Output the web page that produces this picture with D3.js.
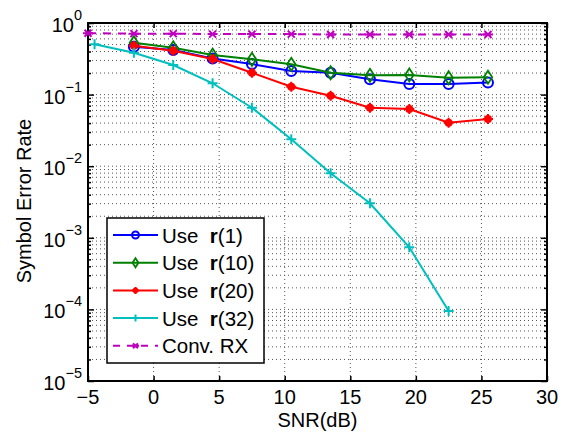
<!DOCTYPE html>
<meta charset="utf-8">
<style>
body { margin: 0; background: #fff; }
text { font-family: "Liberation Sans", Arial, sans-serif; fill: #000; }
.grid line { stroke: #555; stroke-width: 1; stroke-dasharray: 1,3; }
</style>
<body>
<script src="https://d3js.org/d3.v7.min.js"></script>
<script>
// data
var snrConv = [-5, -1.5, 1.5, 4.5, 7.5, 10.5, 13.5, 16.5, 19.5, 22.5, 25.5];
var serConv = [0.72, 0.71, 0.71, 0.70, 0.70, 0.70, 0.69, 0.69, 0.69, 0.69, 0.69];
var snrR = [-1.5, 1.5, 4.5, 7.5, 10.5, 13.5, 16.5, 19.5, 22.5, 25.5];
var serR1 = [0.467, 0.42, 0.32, 0.267, 0.214, 0.202, 0.164, 0.141, 0.141, 0.147];
var serR10 = [0.53, 0.45, 0.357, 0.311, 0.265, 0.202, 0.186, 0.188, 0.172, 0.175];
var serR20 = [0.482, 0.41, 0.314, 0.202, 0.129, 0.0966, 0.0656, 0.063, 0.0405, 0.0456];
var snrR32 = [-4.5, -1.5, 1.5, 4.5, 7.5, 10.5, 13.5, 16.5, 19.5, 22.5];
var serR32 = [0.504, 0.385, 0.259, 0.144, 0.0656, 0.0238, 0.00796, 0.00303, 0.000736, 0.000095];
var xTicks = [-5, 0, 5, 10, 15, 20, 25, 30];
var yExp = [0, -1, -2, -3, -4, -5];

var series = [
  {name: "1",  x: snrR,    y: serR1,  color: "#0000ff", marker: "o"},
  {name: "10", x: snrR,    y: serR10, color: "#008000", marker: "d"},
  {name: "20", x: snrR,    y: serR20, color: "#ff0000", marker: "*"},
  {name: "32", x: snrR32,  y: serR32, color: "#00bfbf", marker: "+"},
  {name: null, x: snrConv, y: serConv, color: "#bf00bf", marker: "x", dash: "8,7", label: "Conv. RX"}
];

var W = 567, H = 433;
var margin = {top: 23, right: 20, bottom: 52, left: 88};
var width = W - margin.left - margin.right,
    height = H - margin.top - margin.bottom;
var fs = "20px";

var svg = d3.select("body").append("svg")
    .attr("width", W).attr("height", H);
var g = svg.append("g")
    .attr("transform", "translate(" + margin.left + "," + margin.top + ")");

var x = d3.scaleLinear().domain([-5, 30]).range([0, width]);
var y = d3.scaleLog().domain([1e-5, 1]).range([height, 0]);

// minor log values
var minors = [];
yExp.forEach(function(e) {
  if (e === 0) return;
  for (var k = 2; k <= 9; k++) minors.push(k * Math.pow(10, e));
});

// grid
var grid = g.append("g").attr("class", "grid");
grid.selectAll(".gx").data(xTicks.slice(1, -1)).enter().append("line")
    .attr("x1", d => x(d)).attr("x2", d => x(d))
    .attr("y1", 0).attr("y2", height);
grid.selectAll(".gy").data(minors.concat(yExp.slice(1, -1).map(e => Math.pow(10, e)))).enter().append("line")
    .attr("x1", 0).attr("x2", width)
    .attr("y1", d => y(d)).attr("y2", d => y(d));

// axes (inside ticks, MATLAB style)
var fmtNone = () => "";
g.append("g").attr("transform", "translate(0," + height + ")")
    .call(d3.axisBottom(x).tickValues(xTicks).tickSizeInner(-5).tickSizeOuter(0).tickFormat(fmtNone));
g.append("g")
    .call(d3.axisTop(x).tickValues(xTicks).tickSizeInner(-5).tickSizeOuter(0).tickFormat(fmtNone));
g.append("g")
    .call(d3.axisLeft(y).tickValues(yExp.map(e => Math.pow(10, e))).tickSizeInner(-6).tickSizeOuter(0).tickFormat(fmtNone));
g.append("g")
    .call(d3.axisLeft(y).tickValues(minors).tickSizeInner(-3).tickSizeOuter(0).tickFormat(fmtNone));
g.append("g").attr("transform", "translate(" + width + ",0)")
    .call(d3.axisRight(y).tickValues(yExp.map(e => Math.pow(10, e))).tickSizeInner(-6).tickSizeOuter(0).tickFormat(fmtNone));
g.append("g").attr("transform", "translate(" + width + ",0)")
    .call(d3.axisRight(y).tickValues(minors).tickSizeInner(-3).tickSizeOuter(0).tickFormat(fmtNone));
g.selectAll(".domain").remove();
g.selectAll(".tick line").attr("stroke", "#000").attr("stroke-width", 1.5);

g.append("rect").attr("width", width).attr("height", height)
    .attr("fill", "none").attr("stroke", "#000").attr("stroke-width", 2);

// tick labels
g.selectAll(".xl").data(xTicks).enter().append("text")
    .attr("x", d => x(d)).attr("y", height + 23)
    .attr("text-anchor", "middle").style("font-size", fs)
    .text(d => d < 0 ? "\u2212" + (-d) : d);
var yl = g.selectAll(".yl").data(yExp).enter().append("text")
    .attr("x", -6).attr("y", d => y(Math.pow(10, d)) + 9)
    .attr("text-anchor", "end").style("font-size", fs);
yl.append("tspan").text("10");
yl.append("tspan").attr("dy", -12).style("font-size", "14.5px")
    .text(d => d < 0 ? "\u2212" + (-d) : d);

// axis titles
svg.append("text").attr("x", margin.left + x(12.5)).attr("y", 427)
    .attr("text-anchor", "middle").style("font-size", fs).text("SNR(dB)");
svg.append("text").attr("transform", "translate(31,201) rotate(-90)")
    .attr("text-anchor", "middle").style("font-size", fs).text("Symbol Error Rate");

// markers
function drawMarker(sel, m, c, s) {
  if (m === "o") sel.append("circle").attr("r", s).attr("fill", "none").attr("stroke", c).attr("stroke-width", 2);
  if (m === "d") sel.append("path").attr("d", "M0," + (-s * 1.3) + "L" + s * 0.85 + ",0L0," + s * 1.3 + "L" + (-s * 0.85) + ",0Z")
      .attr("fill", "none").attr("stroke", c).attr("stroke-width", 1.8);
  if (m === "*") {
    sel.append("circle").attr("r", s * 0.8).attr("fill", c);
    sel.append("path").attr("d", "M" + (-s) + ",0H" + s + "M0," + (-s) + "V" + s)
      .attr("stroke", c).attr("stroke-width", 2);
  }
  if (m === "+") sel.append("path").attr("d", "M" + (-s) + ",0H" + s + "M0," + (-s) + "V" + s)
      .attr("stroke", c).attr("stroke-width", 2);
  if (m === "x") sel.append("path").attr("d", "M" + (-s * 0.7) + "," + (-s * 0.7) + "L" + s * 0.7 + "," + s * 0.7 +
      "M" + (-s * 0.7) + "," + s * 0.7 + "L" + s * 0.7 + "," + (-s * 0.7) + "M" + (-s) + ",0H" + s)
      .attr("stroke", c).attr("stroke-width", 2);
}

var line = d3.line().x(d => x(d[0])).y(d => y(d[1]));
var plot = g.append("g");
series.forEach(function(s) {
  var pts = s.x.map((v, i) => [v, s.y[i]]);
  plot.append("path").datum(pts).attr("d", line)
      .attr("fill", "none").attr("stroke", s.color).attr("stroke-width", 2)
      .attr("stroke-dasharray", s.dash || null);
  pts.forEach(function(p) {
    var mk = plot.append("g").attr("transform", "translate(" + x(p[0]) + "," + y(p[1]) + ")");
    drawMarker(mk, s.marker, s.color, 5);
  });
});

// legend
var leg = svg.append("g").attr("transform", "translate(107,218)");
leg.append("rect").attr("width", 157).attr("height", 145)
    .attr("fill", "#fff").attr("stroke", "#000").attr("stroke-width", 1.5);
series.forEach(function(s, i) {
  var cy = 17 + i * 27.7;
  leg.append("line").attr("x1", 6).attr("x2", 51).attr("y1", cy).attr("y2", cy)
      .attr("stroke", s.color).attr("stroke-width", 2).attr("stroke-dasharray", s.dash ? "7,7" : null);
  var mk = leg.append("g").attr("transform", "translate(28.5," + cy + ")");
  drawMarker(mk, s.marker, s.color, 3.5);
  var t = leg.append("text").attr("x", 55).attr("y", cy + 7.5).style("font-size", "20.5px");
  if (s.name) {
    t.append("tspan").text("Use\u00a0\u00a0");
    t.append("tspan").style("font-weight", "bold").text("r");
    t.append("tspan").text("(" + s.name + ")");
  } else {
    t.text(s.label);
  }
});
</script>
</body>
